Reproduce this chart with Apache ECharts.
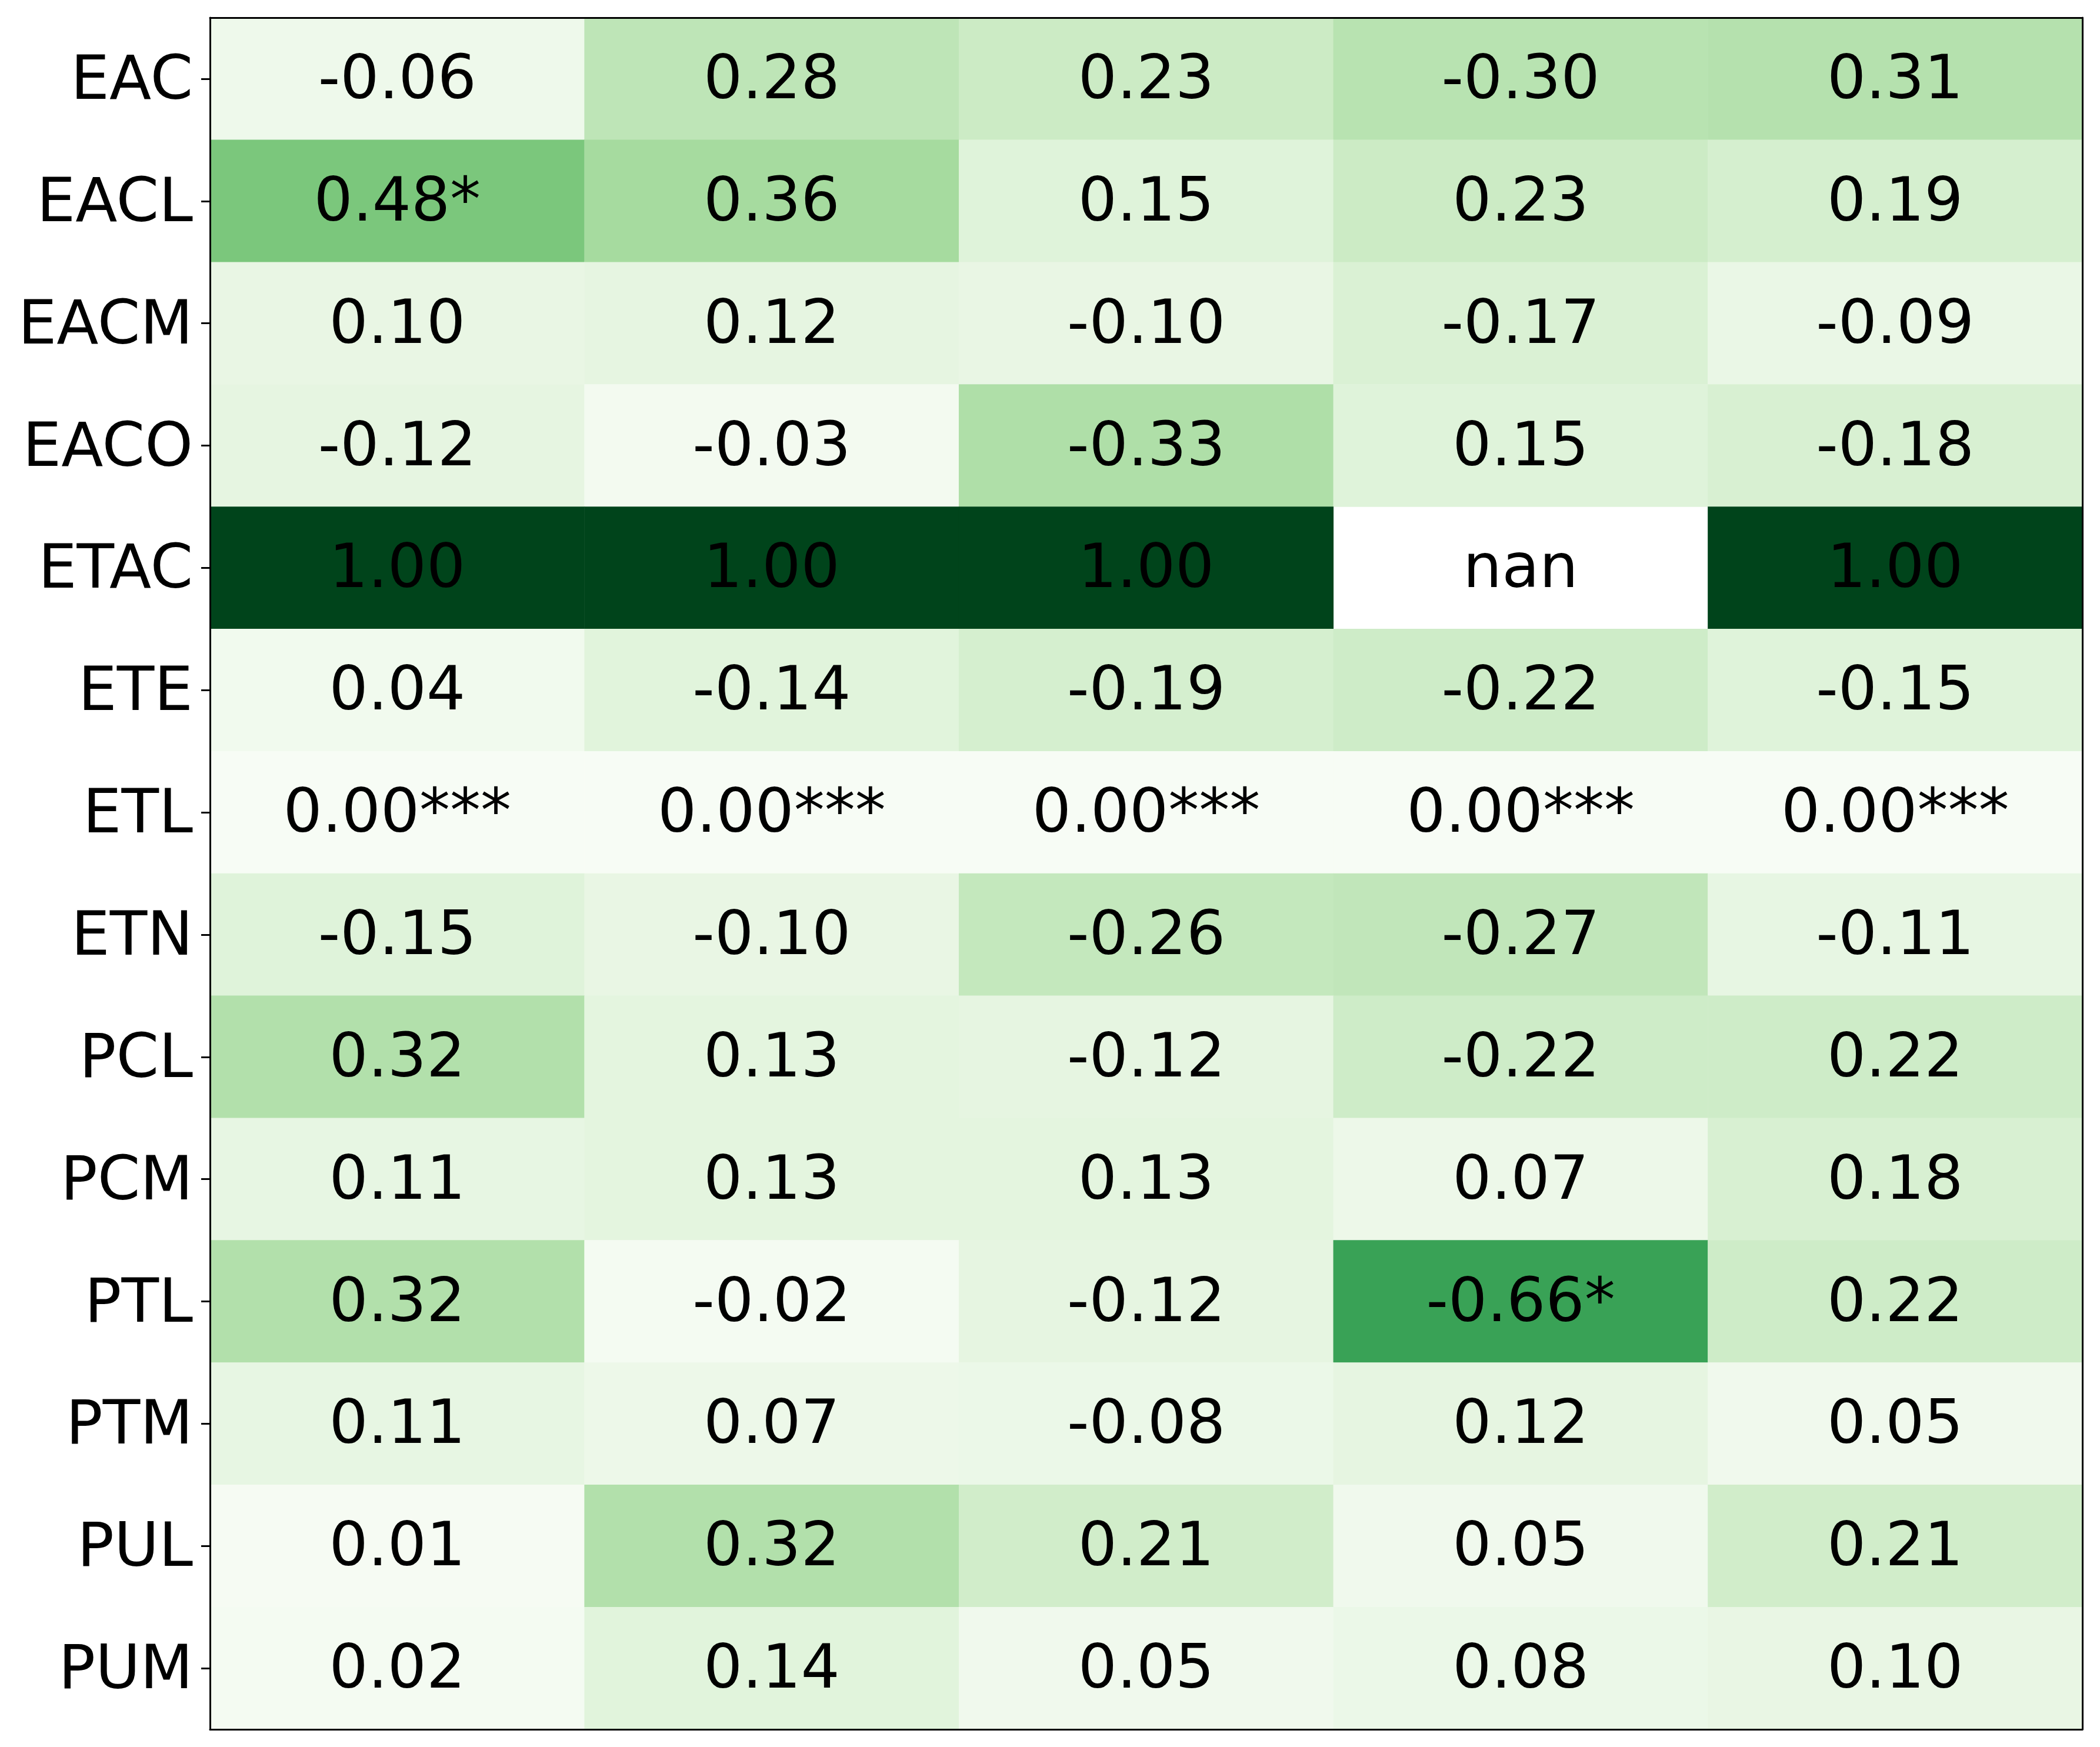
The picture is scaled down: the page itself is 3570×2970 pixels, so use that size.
<!DOCTYPE html>
<html>
<head>
<meta charset="utf-8">
<script src="https://cdn.jsdelivr.net/npm/echarts@6/dist/echarts.min.js"></script>
<style>html,body{margin:0;padding:0;background:#fff;}#chart{width:3570px;height:2970px;}</style>
</head>
<body>
<div id="chart"></div>
<script>
// Row labels (top to bottom)
const rowLabels = ['EAC','EACL','EACM','EACO','ETAC','ETE','ETL','ETN','PCL','PCM','PTL','PTM','PUL','PUM'];
const colLabels = ['C1','C2','C3','C4','C5'];
// Correlation values per row (null = nan)
const vEAC  = [-0.06, 0.28, 0.23, -0.30, 0.31];
const vEACL = [0.48, 0.36, 0.15, 0.23, 0.19];
const vEACM = [0.10, 0.12, -0.10, -0.17, -0.09];
const vEACO = [-0.12, -0.03, -0.33, 0.15, -0.18];
const vETAC = [1.00, 1.00, 1.00, null, 1.00];
const vETE  = [0.04, -0.14, -0.19, -0.22, -0.15];
const vETL  = [0.00, 0.00, 0.00, 0.00, 0.00];
const vETN  = [-0.15, -0.10, -0.26, -0.27, -0.11];
const vPCL  = [0.32, 0.13, -0.12, -0.22, 0.22];
const vPCM  = [0.11, 0.13, 0.13, 0.07, 0.18];
const vPTL  = [0.32, -0.02, -0.12, -0.66, 0.22];
const vPTM  = [0.11, 0.07, -0.08, 0.12, 0.05];
const vPUL  = [0.01, 0.32, 0.21, 0.05, 0.21];
const vPUM  = [0.02, 0.14, 0.05, 0.08, 0.10];
// Significance stars per row
const sEACL = ['*', '', '', '', ''];
const sETL  = ['***', '***', '***', '***', '***'];
const sPTL  = ['', '', '', '*', ''];
const noStars = ['', '', '', '', ''];

const values = [vEAC, vEACL, vEACM, vEACO, vETAC, vETE, vETL, vETN, vPCL, vPCM, vPTL, vPTM, vPUL, vPUM];
const stars = [noStars, sEACL, noStars, noStars, noStars, noStars, sETL, noStars, noStars, noStars, sPTL, noStars, noStars, noStars];

const greens = ['#f7fcf5','#e5f5e0','#c7e9c0','#a1d99b','#74c476','#41ab5d','#238b45','#006d2c','#00441b'];

const heatData = [];
const labelData = [];
values.forEach((row, r) => {
  row.forEach((v, c) => {
    if (v === null) {
      heatData.push([c, r, '-']);
      labelData.push({ value: [c, r], txt: 'nan' });
    } else {
      heatData.push([c, r, Math.abs(v)]);
      labelData.push({ value: [c, r], txt: v.toFixed(2) + stars[r][c] });
    }
  });
});

const FONT = 'DejaVu Sans';
const lineStyle = { color: '#000', width: 3 };

const chart = echarts.init(document.getElementById('chart'), null, { renderer: 'canvas' });
chart.setOption({
  animation: false,
  backgroundColor: '#fff',
  grid: { left: 357, right: 30, top: 30, bottom: 30, containLabel: false },
  xAxis: [
    { type: 'category', data: colLabels, position: 'bottom', z: 10,
      axisLine: { show: true, lineStyle }, axisTick: { show: false }, axisLabel: { show: false }, splitLine: { show: false } },
    { type: 'category', data: colLabels, position: 'top', z: 10,
      axisLine: { show: true, lineStyle }, axisTick: { show: false }, axisLabel: { show: false }, splitLine: { show: false } }
  ],
  yAxis: [
    { type: 'category', data: rowLabels, inverse: true, position: 'left', z: 10,
      axisLine: { show: true, lineStyle },
      axisTick: { show: true, alignWithLabel: true, length: 15, lineStyle: { color: '#000', width: 3 } },
      axisLabel: { show: true, fontFamily: FONT, fontSize: 104, color: '#000', margin: 29,
                   verticalAlign: 'top', lineHeight: 14 },
      splitLine: { show: false } },
    { type: 'category', data: rowLabels, inverse: true, position: 'right', z: 10,
      axisLine: { show: true, lineStyle }, axisTick: { show: false }, axisLabel: { show: false }, splitLine: { show: false } }
  ],
  visualMap: {
    show: false, type: 'continuous', min: 0, max: 1, dimension: 2, seriesIndex: 0,
    inRange: { color: greens }
  },
  series: [
    {
      type: 'heatmap', xAxisIndex: 0, yAxisIndex: 0, data: heatData,
      itemStyle: { borderWidth: 0 },
      emphasis: { disabled: true },
      label: { show: false }
    },
    {
      type: 'scatter', xAxisIndex: 0, yAxisIndex: 0, data: labelData,
      symbolSize: 1, itemStyle: { color: 'rgba(0,0,0,0)', opacity: 1 }, z: 5,
      emphasis: { disabled: true },
      label: {
        show: true, position: 'inside', offset: [0, 6],
        formatter: p => p.data.txt,
        fontFamily: FONT, fontSize: 104, color: '#000', opacity: 1
      }
    }
  ]
});
</script>
</body>
</html>
